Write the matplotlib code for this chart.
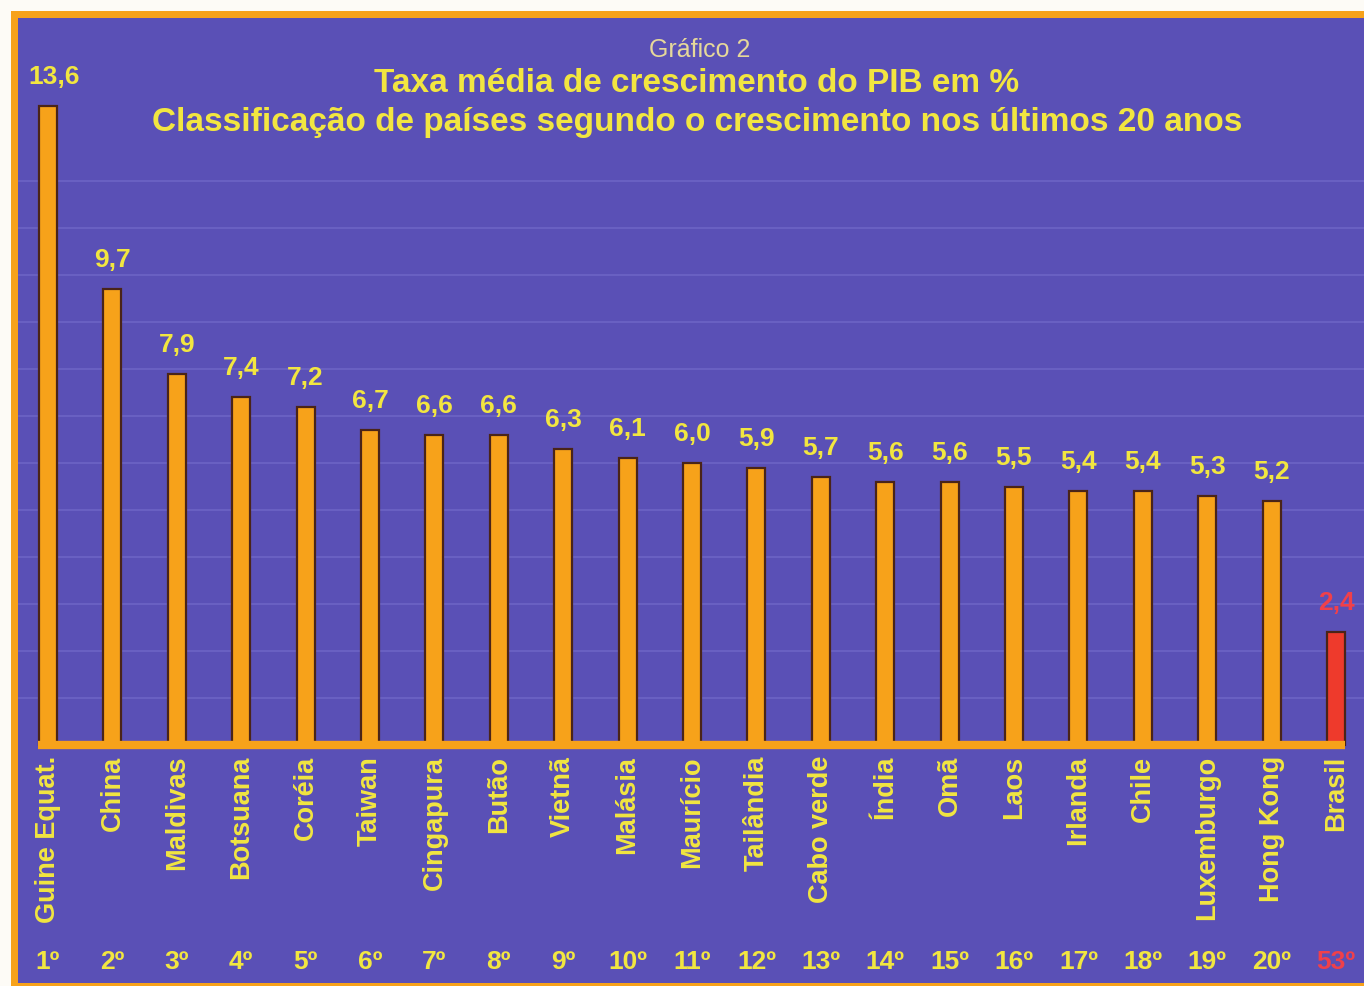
import matplotlib
matplotlib.use("Agg")
import matplotlib.pyplot as plt
from matplotlib.patches import Rectangle

# Average GDP growth (% per year), top 20 countries plus Brazil
countries = ["Guine Equat.", "China", "Maldivas", "Botsuana", "Coréia", "Taiwan",
             "Cingapura", "Butão", "Vietnã", "Malásia", "Maurício", "Tailândia",
             "Cabo verde", "Índia", "Omã", "Laos", "Irlanda", "Chile",
             "Luxemburgo", "Hong Kong", "Brasil"]
growth = [13.6, 9.7, 7.9, 7.4, 7.2, 6.7, 6.6, 6.6, 6.3, 6.1, 6.0, 5.9,
          5.7, 5.6, 5.6, 5.5, 5.4, 5.4, 5.3, 5.2, 2.4]
value_labels = ["13,6", "9,7", "7,9", "7,4", "7,2", "6,7", "6,6", "6,6", "6,3",
                "6,1", "6,0", "5,9", "5,7", "5,6", "5,6", "5,5", "5,4", "5,4",
                "5,3", "5,2", "2,4"]
ranks = ["1º", "2º", "3º", "4º", "5º", "6º", "7º", "8º", "9º", "10º", "11º",
         "12º", "13º", "14º", "15º", "16º", "17º", "18º", "19º", "20º", "53º"]

BG = "#5a50b6"
ORANGE = "#f7a21a"
EDGE = "#4a2418"
YELLOW = "#f2e640"
RED = "#ee3a2c"
RED_TXT = "#f0404a"

plt.rcParams["font.family"] = ["Liberation Sans", "DejaVu Sans"]

W, H = 1364, 986
fig = plt.figure(figsize=(W / 100, H / 100), dpi=100)
ax = fig.add_axes([0, 0, 1, 1])

# pixel geometry of the plotting scale
x0_px, step_px = 48.0, 64.4
base_px, unit_px = 745.0, 47.0
ax.set_xlim(-x0_px / step_px, (W - x0_px) / step_px)
ax.set_ylim((base_px - H) / unit_px, base_px / unit_px)
ax.axis("off")

# page background, orange frame and purple panel
fig.patches.append(Rectangle((0, 0), 1, 1, transform=fig.transFigure,
                             facecolor="#fdfbf6", zorder=-3))
fig.patches.append(Rectangle((11 / W, 0), 1 - 11 / W, 1 - 11 / H,
                             transform=fig.transFigure, facecolor=ORANGE, zorder=-2))
fig.patches.append(Rectangle((18 / W, 3 / H), 1 - 18 / W, 1 - 21 / H,
                             transform=fig.transFigure, facecolor=BG, zorder=-1))

# faint horizontal guide lines at each whole percent
xl = ax.get_xlim()
for v in range(1, 13):
    ax.plot([-0.45, xl[1]], [v, v], color="#8f88e0", lw=1.2, alpha=0.35, zorder=1)

n = len(countries)
xs = list(range(n))
colors = [ORANGE] * (n - 1) + [RED]
ax.bar(xs, growth, width=0.28, color=colors, edgecolor=EDGE, linewidth=1.6, zorder=3)

# baseline
ax.plot([-0.16, 20.14], [0, 0], color=ORANGE, lw=6, solid_capstyle="butt", zorder=4)

for i, (v, lab, c, r) in enumerate(zip(growth, value_labels, countries, ranks)):
    tc = RED_TXT if i == n - 1 else YELLOW
    dx = 0.1 if i == 0 else 0.0
    ax.text(i + dx, v + 0.36, lab, ha="center", va="bottom", color=tc,
            fontsize=19, fontweight="bold", zorder=5)
    ax.text(i, -11 / unit_px, c, rotation=90, ha="center", va="top",
            color=YELLOW, fontsize=19.5, fontweight="bold", zorder=5)
    ax.text(i, -(962 - base_px) / unit_px, r, ha="center", va="center",
            color=tc, fontsize=19, fontweight="bold", zorder=5)

cx = (697 - x0_px) / step_px
ax.text(cx + 0.04, (base_px - 50) / unit_px, "Gráfico 2", ha="center", va="center",
        color="#e6d89a", fontsize=18, zorder=5)
ax.text(cx, (base_px - 83) / unit_px, "Taxa média de crescimento do PIB em %",
        ha="center", va="center", color=YELLOW, fontsize=24, fontweight="bold", zorder=5)
ax.text(cx, (base_px - 123) / unit_px,
        "Classificação de países segundo o crescimento nos últimos 20 anos",
        ha="center", va="center", color=YELLOW, fontsize=24, fontweight="bold", zorder=5)

fig.savefig("out.png", dpi=100, facecolor="white")
